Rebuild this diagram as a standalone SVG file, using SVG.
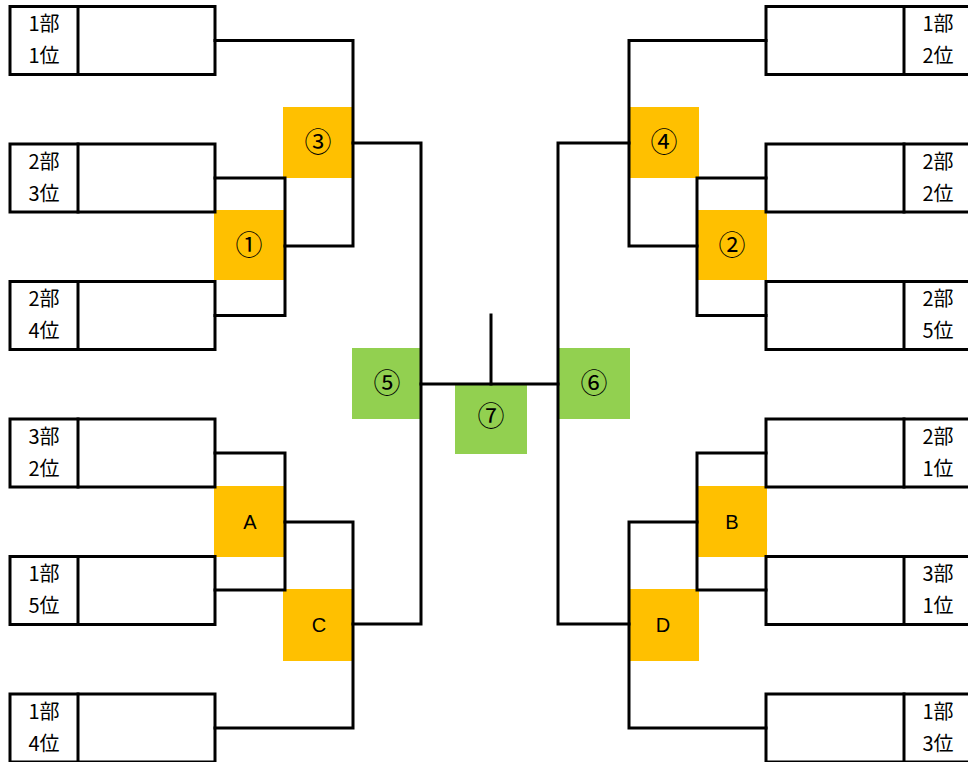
<svg xmlns="http://www.w3.org/2000/svg" width="968" height="762" viewBox="0 0 968 762">
<style>
.bg{fill:#ffffff}
.box{fill:none;stroke:#000;stroke-width:3}
.ln{fill:none;stroke:#000;stroke-width:3;stroke-linecap:square}
.org{fill:#FFC000}
.grn{fill:#92D050}
.lbl{font-family:"Noto Sans CJK JP","Liberation Sans",sans-serif;font-size:20px;fill:#000;text-anchor:middle}
.num{font-family:"Noto Sans CJK JP","Liberation Sans",sans-serif;font-size:27px;fill:#000;text-anchor:middle}
.let{font-family:"Liberation Sans","Noto Sans",sans-serif;font-size:20px;fill:#000;text-anchor:middle}
</style>
<rect class="bg" x="0" y="0" width="968" height="762"/>

<!-- match nodes -->
<g id="m1"><rect class="org" x="214" y="210" width="70" height="70"/><text class="num" x="249" y="255">①</text></g>
<g id="m2"><rect class="org" x="698" y="210" width="69" height="70"/><text class="num" x="732" y="255">②</text></g>
<g id="m3"><rect class="org" x="283" y="107" width="70" height="71"/><text class="num" x="318" y="152">③</text></g>
<g id="m4"><rect class="org" x="630" y="107" width="69" height="71"/><text class="num" x="664" y="152">④</text></g>
<g id="m5"><rect class="grn" x="352" y="348" width="69" height="71"/><text class="num" x="387" y="393">⑤</text></g>
<g id="m6"><rect class="grn" x="558" y="348" width="72" height="71"/><text class="num" x="594" y="393">⑥</text></g>
<g id="m7"><rect class="grn" x="455" y="385" width="72" height="69"/><text class="num" x="491" y="426">⑦</text></g>
<g id="mA"><rect class="org" x="214" y="486" width="70" height="71"/><text class="let" x="250" y="529">A</text></g>
<g id="mB"><rect class="org" x="698" y="486" width="69" height="71"/><text class="let" x="732" y="529">B</text></g>
<g id="mC"><rect class="org" x="283" y="589" width="70" height="72"/><text class="let" x="319" y="632">C</text></g>
<g id="mD"><rect class="org" x="630" y="589" width="69" height="72"/><text class="let" x="663" y="632">D</text></g>

<!-- team boxes left -->
<g id="L1"><rect class="box" x="10" y="6.5" width="205" height="68"/><line class="ln" x1="78" y1="6.5" x2="78" y2="74.5"/><text class="lbl" x="44" y="31">1部</text><text class="lbl" x="44" y="63">1位</text></g>
<g id="L2"><rect class="box" x="10" y="144" width="205" height="68"/><line class="ln" x1="78" y1="144" x2="78" y2="212"/><text class="lbl" x="44" y="169">2部</text><text class="lbl" x="44" y="201">3位</text></g>
<g id="L3"><rect class="box" x="10" y="281.5" width="205" height="68"/><line class="ln" x1="78" y1="281.5" x2="78" y2="349.5"/><text class="lbl" x="44" y="306">2部</text><text class="lbl" x="44" y="338">4位</text></g>
<g id="L4"><rect class="box" x="10" y="419" width="205" height="68"/><line class="ln" x1="78" y1="419" x2="78" y2="487"/><text class="lbl" x="44" y="444">3部</text><text class="lbl" x="44" y="476">2位</text></g>
<g id="L5"><rect class="box" x="10" y="556.5" width="205" height="68"/><line class="ln" x1="78" y1="556.5" x2="78" y2="624.5"/><text class="lbl" x="44" y="581">1部</text><text class="lbl" x="44" y="613">5位</text></g>
<g id="L6"><rect class="box" x="10" y="694" width="205" height="68"/><line class="ln" x1="78" y1="694" x2="78" y2="762"/><text class="lbl" x="44" y="719">1部</text><text class="lbl" x="44" y="751">4位</text></g>

<!-- team boxes right -->
<g id="R1"><rect class="box" x="766" y="6.5" width="210" height="68"/><line class="ln" x1="904" y1="6.5" x2="904" y2="74.5"/><text class="lbl" x="938" y="31">1部</text><text class="lbl" x="938" y="63">2位</text></g>
<g id="R2"><rect class="box" x="766" y="144" width="210" height="68"/><line class="ln" x1="904" y1="144" x2="904" y2="212"/><text class="lbl" x="938" y="169">2部</text><text class="lbl" x="938" y="201">2位</text></g>
<g id="R3"><rect class="box" x="766" y="281.5" width="210" height="68"/><line class="ln" x1="904" y1="281.5" x2="904" y2="349.5"/><text class="lbl" x="938" y="306">2部</text><text class="lbl" x="938" y="338">5位</text></g>
<g id="R4"><rect class="box" x="766" y="419" width="210" height="68"/><line class="ln" x1="904" y1="419" x2="904" y2="487"/><text class="lbl" x="938" y="444">2部</text><text class="lbl" x="938" y="476">1位</text></g>
<g id="R5"><rect class="box" x="766" y="556.5" width="210" height="68"/><line class="ln" x1="904" y1="556.5" x2="904" y2="624.5"/><text class="lbl" x="938" y="581">3部</text><text class="lbl" x="938" y="613">1位</text></g>
<g id="R6"><rect class="box" x="766" y="694" width="210" height="68"/><line class="ln" x1="904" y1="694" x2="904" y2="762"/><text class="lbl" x="938" y="719">1部</text><text class="lbl" x="938" y="751">3位</text></g>

<!-- connectors -->
<g id="connectors">
<polyline class="ln" points="215,40.5 353,40.5 353,246 285,246"/>
<polyline class="ln" points="215,178 285,178 285,315.5 215,315.5"/>
<polyline class="ln" points="353,143 421,143 421,624 353,624"/>
<polyline class="ln" points="215,453 285,453 285,590 215,590"/>
<polyline class="ln" points="285,522 353,522 353,728 215,728"/>
<line class="ln" x1="421" y1="384" x2="558" y2="384"/>
<line class="ln" x1="491" y1="315" x2="491" y2="384"/>
<polyline class="ln" points="629,143 558,143 558,624 629,624"/>
<polyline class="ln" points="766,40.5 629,40.5 629,246 697,246"/>
<polyline class="ln" points="766,178 697,178 697,315.5 766,315.5"/>
<polyline class="ln" points="766,453 697,453 697,590 766,590"/>
<polyline class="ln" points="697,522 629,522 629,728 766,728"/>
</g>
</svg>
